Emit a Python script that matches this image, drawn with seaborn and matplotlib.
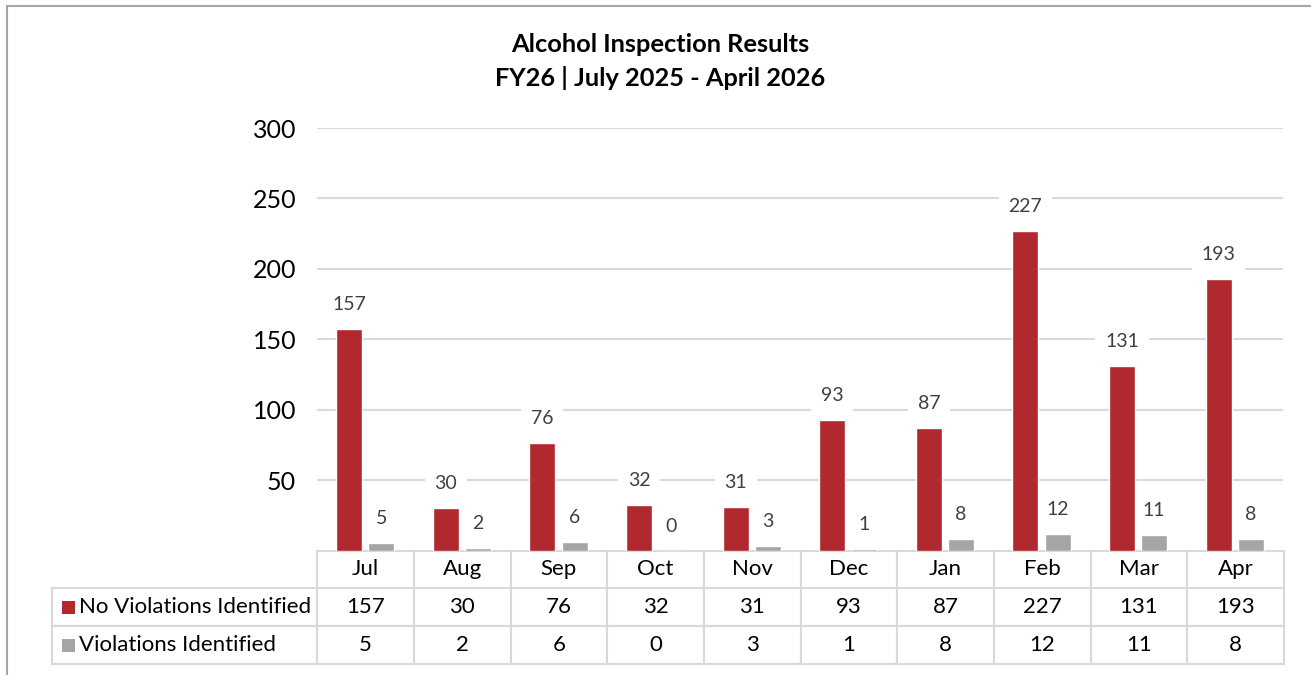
import pandas as pd
import numpy as np
import matplotlib
matplotlib.use("Agg")
import matplotlib.pyplot as plt
from matplotlib.lines import Line2D
from matplotlib.patches import Rectangle
import seaborn as sns

# ---- data ----
meses = ["Jul", "Aug", "Sep", "Oct", "Nov", "Dec", "Jan", "Feb", "Mar", "Apr"]
sin_violaciones = [157, 30, 76, 32, 31, 93, 87, 227, 131, 193]
con_violaciones = [5, 2, 6, 0, 3, 1, 8, 12, 11, 8]
series = ["No Violations Identified", "Violations Identified"]
colores = ["#B1292E", "#A5A5A5"]
yticks = [50, 100, 150, 200, 250, 300]

df = pd.DataFrame({
    "mes": meses * 2,
    "valor": sin_violaciones + con_violaciones,
    "serie": [series[0]] * len(meses) + [series[1]] * len(meses),
})

sns.set_theme(style="white")
plt.rcParams["font.family"] = ["Lato", "DejaVu Sans"]

W, H = 1311, 675
fig = plt.figure(figsize=(W / 100, H / 100), dpi=100)
ax_l, ax_r, ax_t, ax_b = 317, 1283, 128, 550.5
ax = fig.add_axes([ax_l / W, 1 - ax_b / H, (ax_r - ax_l) / W, (ax_b - ax_t) / H])

sns.barplot(data=df, x="mes", y="valor", hue="serie", order=meses,
            hue_order=series, palette=colores, width=0.664, gap=0.19,
            saturation=1, legend=False, ax=ax)

ax.set_ylim(0, 300)
ax.set_xlim(-0.5, len(meses) - 0.5)
ax.set_yticks(yticks)
ax.set_xticks([])
ax.set_xlabel("")
ax.set_ylabel("")
ax.tick_params(axis="y", length=0, pad=15, labelsize=18, labelcolor="black")
ax.yaxis.grid(True, color="#D9D9D9", lw=1.5)
ax.set_axisbelow(True)
for s in ax.spines.values():
    s.set_visible(False)

# etiquetas de datos (cajas blancas por debajo de las barras)
for cont in ax.containers:
    for p in cont:
        p.set_zorder(4)
    ax.bar_label(cont, padding=11.5, fontsize=14, color="#404040",
                 bbox=dict(fc="white", ec="none", pad=7))

# ---- tabla de datos ----
ax_h = ax_b - ax_t
tab_l, tab_r, tab_b = 52, 1284, 664
celdas = [[series[0]] + [str(v) for v in sin_violaciones],
          [series[1]] + [str(v) for v in con_violaciones]]
tbl = ax.table(cellText=celdas, colLabels=[""] + meses, cellLoc="center",
               colWidths=[265] + [96.6] * len(meses),
               bbox=[(tab_l - ax_l) / (ax_r - ax_l), -(tab_b - ax_b) / ax_h,
                     (tab_r - tab_l) / (ax_r - ax_l), (tab_b - ax_b) / ax_h])
tbl.auto_set_font_size(False)
tbl.set_fontsize(16)
tbl.set_clip_on(False)
for (r, c), cell in tbl.get_celld().items():
    cell.set_edgecolor("#D9D9D9")
    cell.set_linewidth(1.5)
    cell.set_clip_on(False)
    cell.get_text().set_color("black")
    if c == 0:
        cell.get_text().set_ha("left")
    if r == 0 and c == 0:
        cell.visible_edges = "open"

# cuadritos de leyenda
filas_y = [607, 645]
for yc, col in zip(filas_y, colores):
    fig.add_artist(Rectangle((62 / W, 1 - (yc + 6.5) / H), 13 / W, 13 / H,
                             transform=fig.transFigure, fc=col, ec="none"))

# ---- titulo ----
fig.text(660 / W, 1 - 44 / H, "Alcohol Inspection Results", ha="center",
         va="center", fontsize=18.3, fontweight="bold", color="black")
fig.text(660 / W, 1 - 78 / H, "FY26 | July 2025 - April 2026", ha="center",
         va="center", fontsize=18.3, fontweight="bold", color="black")

# marco
fig.add_artist(Line2D([7 / W, 7 / W], [0, 1 - 6 / H], color="#A6A6A6", lw=1.5))
fig.add_artist(Line2D([7 / W, 1], [1 - 6 / H, 1 - 6 / H], color="#A6A6A6", lw=1.5))

fig.savefig("out.png", dpi=100)
